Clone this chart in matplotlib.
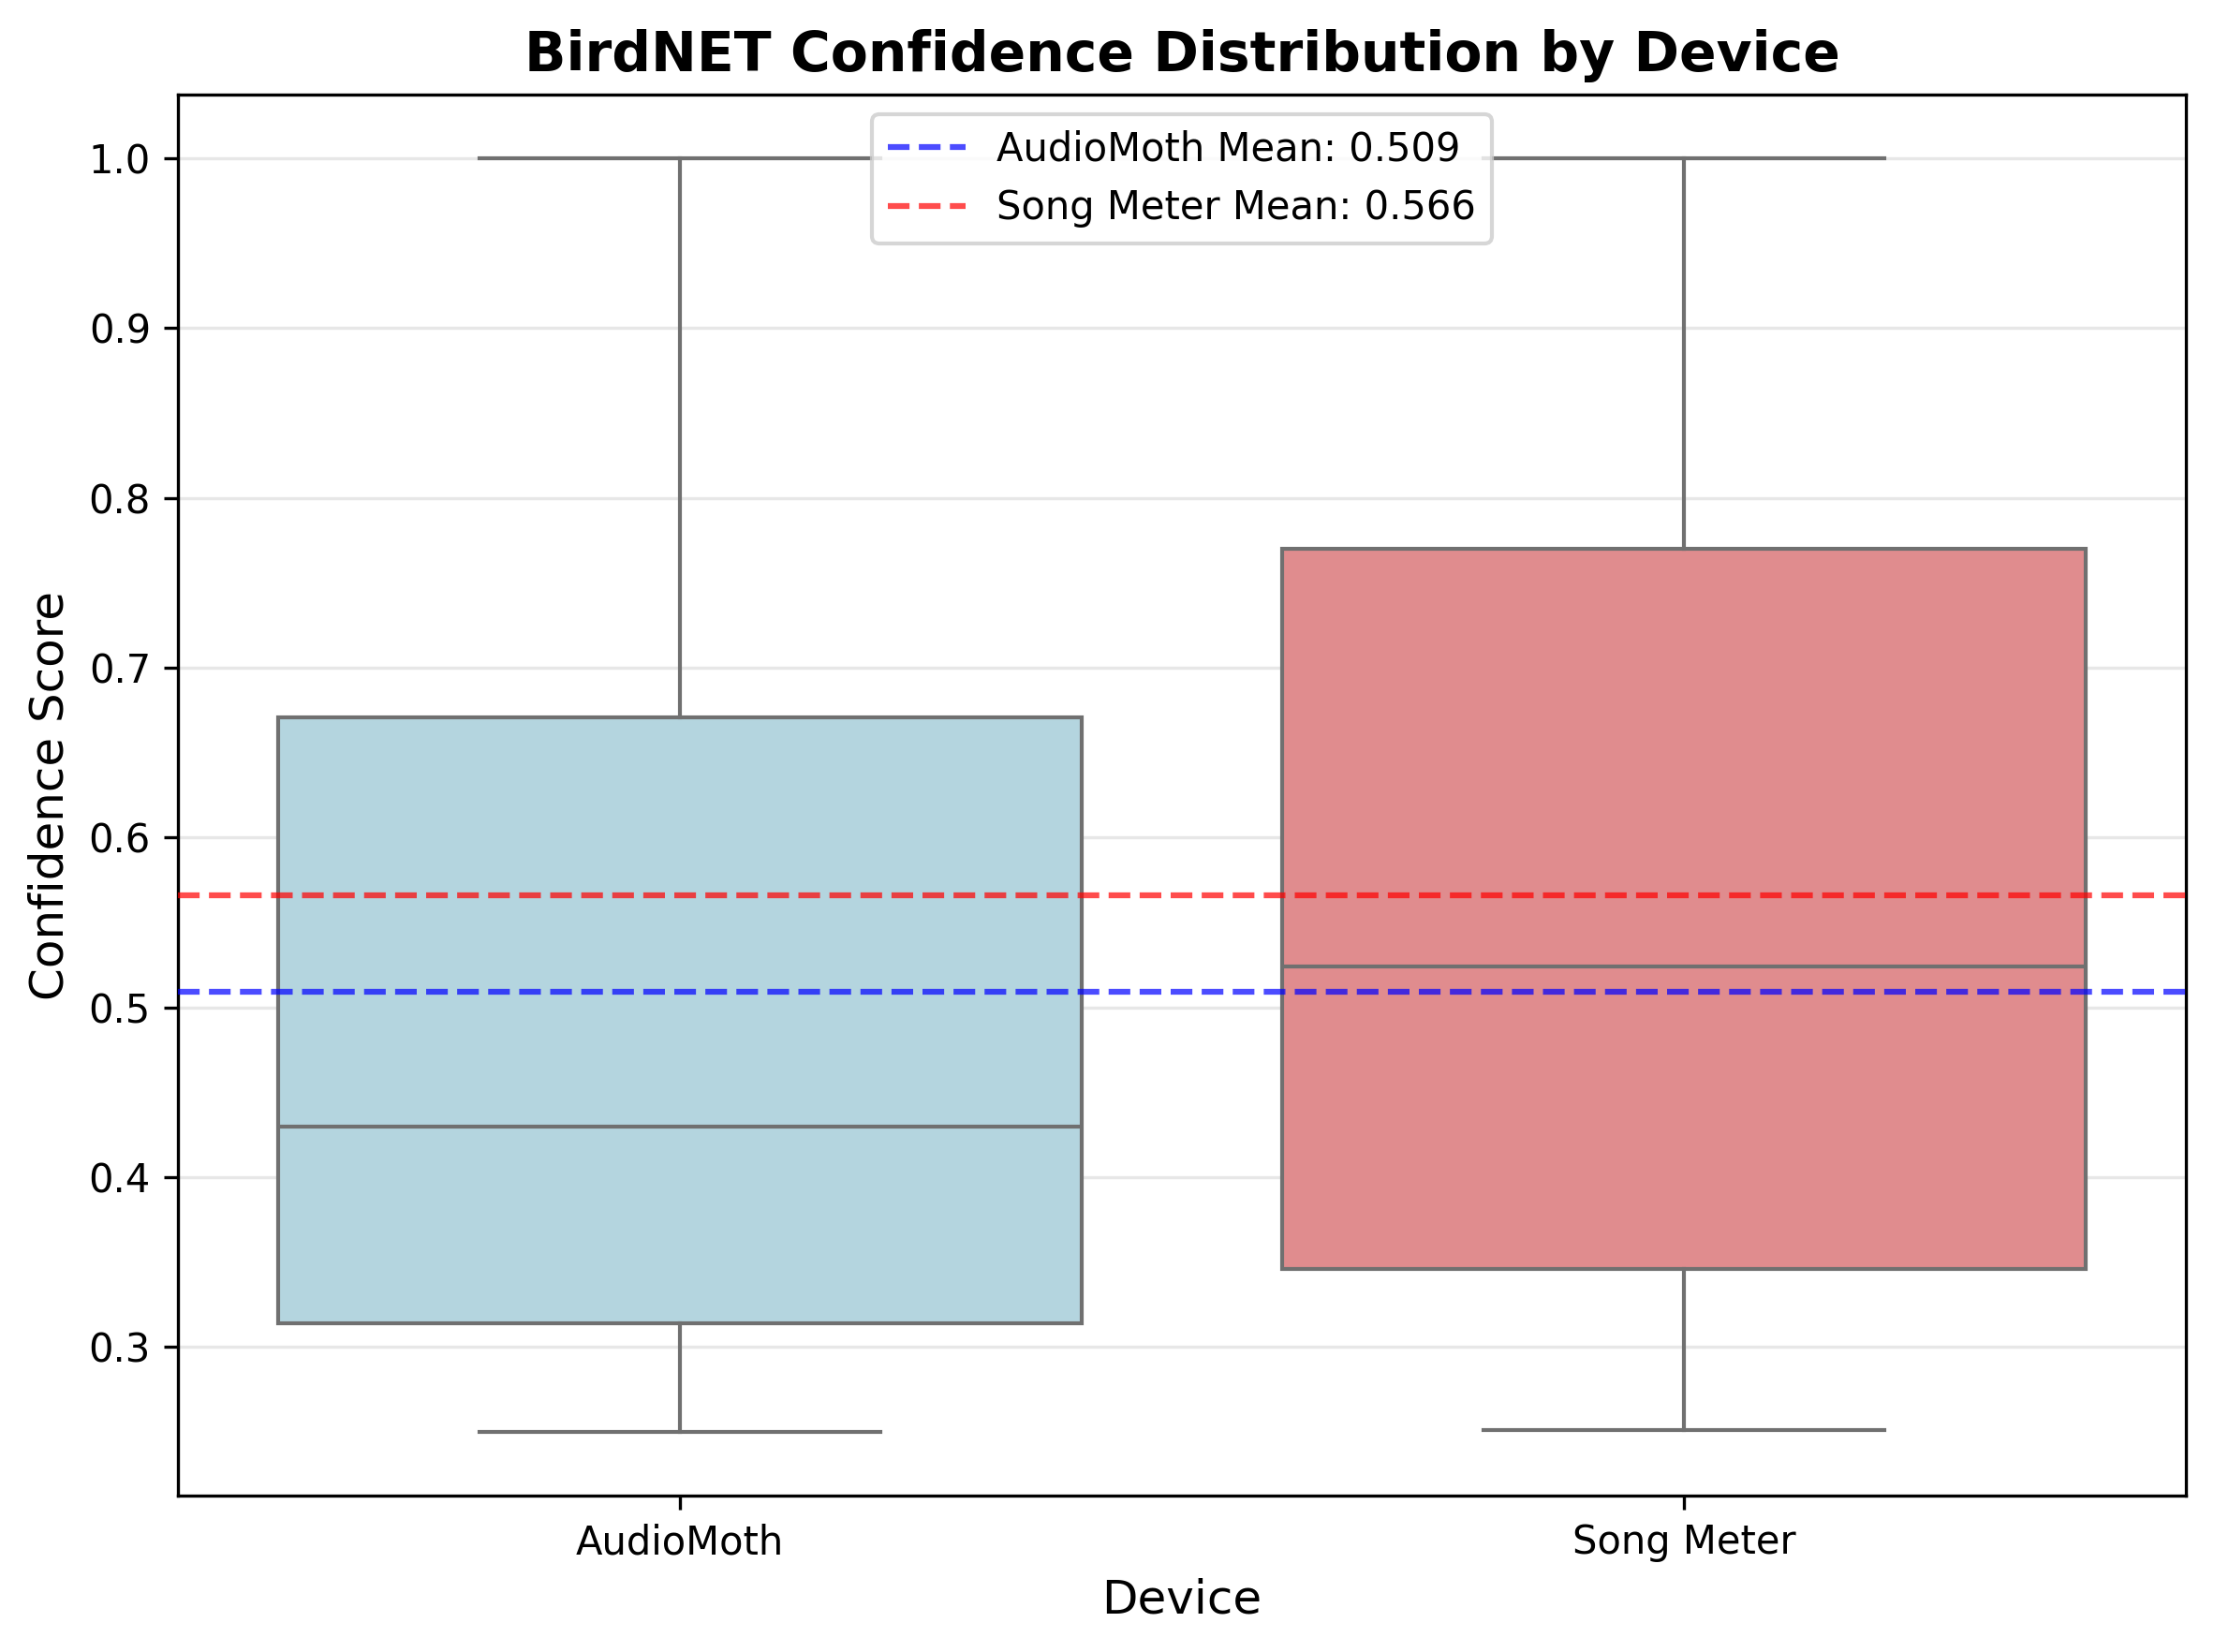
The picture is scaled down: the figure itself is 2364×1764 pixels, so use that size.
import matplotlib
matplotlib.use("Agg")
import matplotlib.pyplot as plt

devices = ["AudioMoth", "Song Meter"]
whislo = [0.250, 0.251]
q1 = [0.314, 0.346]
med = [0.430, 0.524]
q3 = [0.671, 0.770]
whishi = [1.000, 1.000]
box_colors = ["#b4d5df", "#e08c8e"]
means = [0.509, 0.566]
mean_colors = ["blue", "red"]

fig = plt.figure(figsize=(7.88, 5.88), dpi=300)
ax = fig.add_axes([0.0804, 0.0947, 0.9069, 0.848])

stats = []
for i, d in enumerate(devices):
    stats.append(dict(label=d, whislo=whislo[i], q1=q1[i], med=med[i],
                      q3=q3[i], whishi=whishi[i], fliers=[]))

lc = "#707070"
bp = ax.bxp(stats, positions=range(len(devices)), widths=0.8, patch_artist=True,
            showfliers=False,
            boxprops=dict(edgecolor=lc, linewidth=1.0),
            medianprops=dict(color=lc, linewidth=1.0),
            whiskerprops=dict(color=lc, linewidth=1.0),
            capprops=dict(color=lc, linewidth=1.0),
            capwidths=0.4, zorder=2)
for patch, c in zip(bp["boxes"], box_colors):
    patch.set_facecolor(c)

for d, m, c in zip(devices, means, mean_colors):
    ax.axhline(m, color=c, linestyle="--", alpha=0.7, linewidth=1.5,
               label=f"{d} Mean: {m:.3f}", zorder=3)

ax.set_xlim(-0.5, 1.5)
ax.set_ylim(0.2125, 1.0375)
ax.set_xticks(range(len(devices)))
ax.set_xticklabels(devices, fontsize=10)
ax.tick_params(axis="y", labelsize=10)
ax.yaxis.grid(True, alpha=0.3, zorder=0)
ax.set_axisbelow(True)
ax.set_title("BirdNET Confidence Distribution by Device", fontsize=14, fontweight="bold")
ax.set_xlabel("Device", fontsize=12)
ax.set_ylabel("Confidence Score", fontsize=12)
ax.legend(loc="upper center", fontsize=10)

fig.savefig("out.png", dpi=300)
